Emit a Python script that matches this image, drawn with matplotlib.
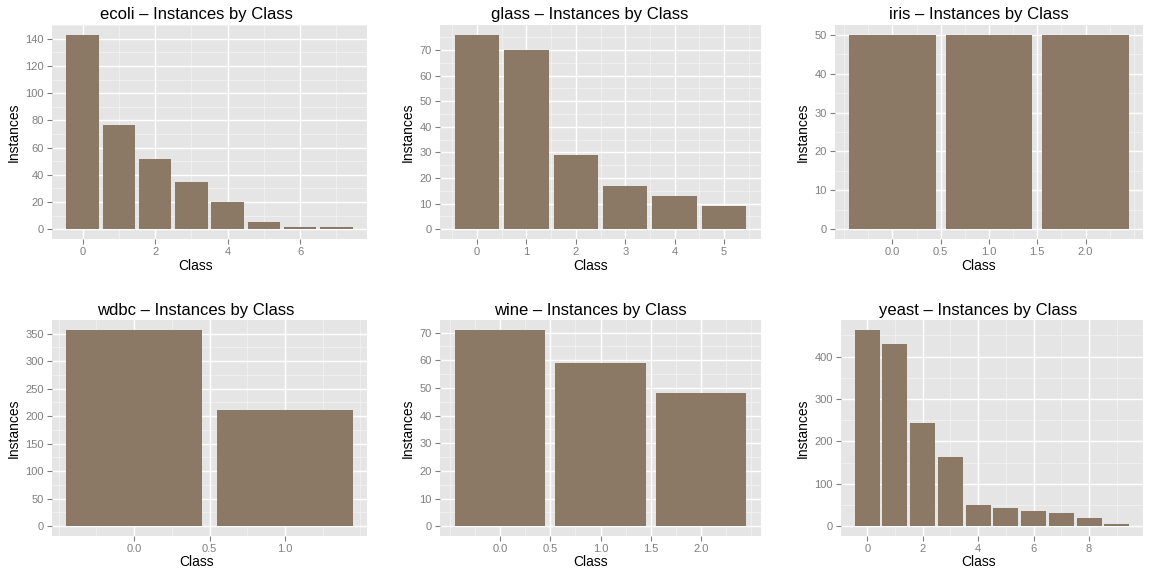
import matplotlib
matplotlib.use("Agg")
import matplotlib.pyplot as plt
import numpy as np

plt.rcParams['font.family'] = ['Liberation Sans', 'DejaVu Sans']

datasets = ["ecoli", "glass", "iris", "wdbc", "wine", "yeast"]
ecoli = [143, 77, 52, 35, 20, 5, 2, 2]
glass = [76, 70, 29, 17, 13, 9]
iris = [50, 50, 50]
wdbc = [357, 212]
wine = [71, 59, 48]
yeast = [463, 429, 244, 163, 51, 44, 35, 30, 20, 5]
values = [ecoli, glass, iris, wdbc, wine, yeast]

x_breaks = [[0, 2, 4, 6], [0, 1, 2, 3, 4, 5], [0.0, 0.5, 1.0, 1.5, 2.0],
            [0.0, 0.5, 1.0], [0.0, 0.5, 1.0, 1.5, 2.0], [0, 2, 4, 6, 8]]
x_labels = [["0", "2", "4", "6"], ["0", "1", "2", "3", "4", "5"],
            ["0.0", "0.5", "1.0", "1.5", "2.0"], ["0.0", "0.5", "1.0"],
            ["0.0", "0.5", "1.0", "1.5", "2.0"], ["0", "2", "4", "6", "8"]]
y_breaks = [[0, 20, 40, 60, 80, 100, 120, 140], [0, 10, 20, 30, 40, 50, 60, 70],
            [0, 10, 20, 30, 40, 50], [0, 50, 100, 150, 200, 250, 300, 350],
            [0, 10, 20, 30, 40, 50, 60, 70], [0, 100, 200, 300, 400]]

# panel boxes in pixels: left, top, right, bottom
boxes = [(52, 25, 367, 239), (440, 25, 761, 239), (835, 25, 1143, 239),
         (52, 320, 367, 536), (440, 320, 761, 536), (841, 320, 1143, 536)]

W, H = 1151, 570
fig = plt.figure(figsize=(W / 100, H / 100), dpi=100)
fig.patch.set_facecolor("white")

bar_color = "#8C7965"
bg = "#E5E5E5"
minor_c = "#F2F2F2"

def minor_from(major, lo, hi):
    step = major[1] - major[0]
    res = []
    m = major[0] - step * 2
    while m <= hi:
        if m >= lo and all(abs(m - b) > 1e-9 for b in major):
            res.append(m)
        m += step / 2
    return res

axes = []
for name, vals, xb, xl, yb, box in zip(datasets, values, x_breaks, x_labels, y_breaks, boxes):
    l, t, r, b = box
    ax = fig.add_axes([l / W, 1 - b / H, (r - l) / W, (b - t) / H])
    ax.set_facecolor(bg)
    n = len(vals)
    x = np.arange(n)
    x_lo, x_hi = -0.45, n - 1 + 0.45
    pad = (x_hi - x_lo) * 0.05
    xmin, xmax = x_lo - pad, x_hi + pad
    ymax_d = max(vals)
    ypad = ymax_d * 0.05
    ymin, ymax = -ypad, ymax_d + ypad
    for m in minor_from(xb, xmin, xmax):
        ax.axvline(m, color=minor_c, lw=0.6, zorder=0)
    for m in minor_from(yb, ymin, ymax):
        ax.axhline(m, color=minor_c, lw=0.6, zorder=0)
    for v in xb:
        ax.axvline(v, color="white", lw=1.0, zorder=0.5)
    for v in yb:
        ax.axhline(v, color="white", lw=1.0, zorder=0.5)
    ax.bar(x, vals, width=0.9, color=bar_color, zorder=2, linewidth=0)
    ax.set_xlim(xmin, xmax)
    ax.set_ylim(ymin, ymax)
    ax.set_xticks(xb)
    ax.set_xticklabels(xl)
    ax.set_yticks(yb)
    ax.set_yticklabels([str(v) for v in yb])
    for s in ax.spines.values():
        s.set_visible(False)
    ax.tick_params(axis="both", colors="#7F7F7F", labelcolor="#7F7F7F",
                   labelsize=8, length=3.5, width=0.8, pad=2.5)
    ax.set_ylabel("Instances", fontsize=10, color="black", labelpad=3)
    axes.append((ax, name, box))

fig.canvas.draw()
renderer = fig.canvas.get_renderer()
for ax, name, box in axes:
    l, t, r, b = box
    lefts = [lab.get_window_extent(renderer).x0 for lab in ax.get_yticklabels()]
    left_px = min(lefts)
    cx = (left_px / W + r / W) / 2
    fig.text(cx, 1 - (t - 10) / H, name + " \u2013 Instances by Class",
             ha="center", va="center", fontsize=12, color="black")
    fig.text(cx, 1 - (b + 26.5) / H, "Class",
             ha="center", va="center", fontsize=10, color="black")

fig.savefig("out.png", dpi=100, facecolor="white")
